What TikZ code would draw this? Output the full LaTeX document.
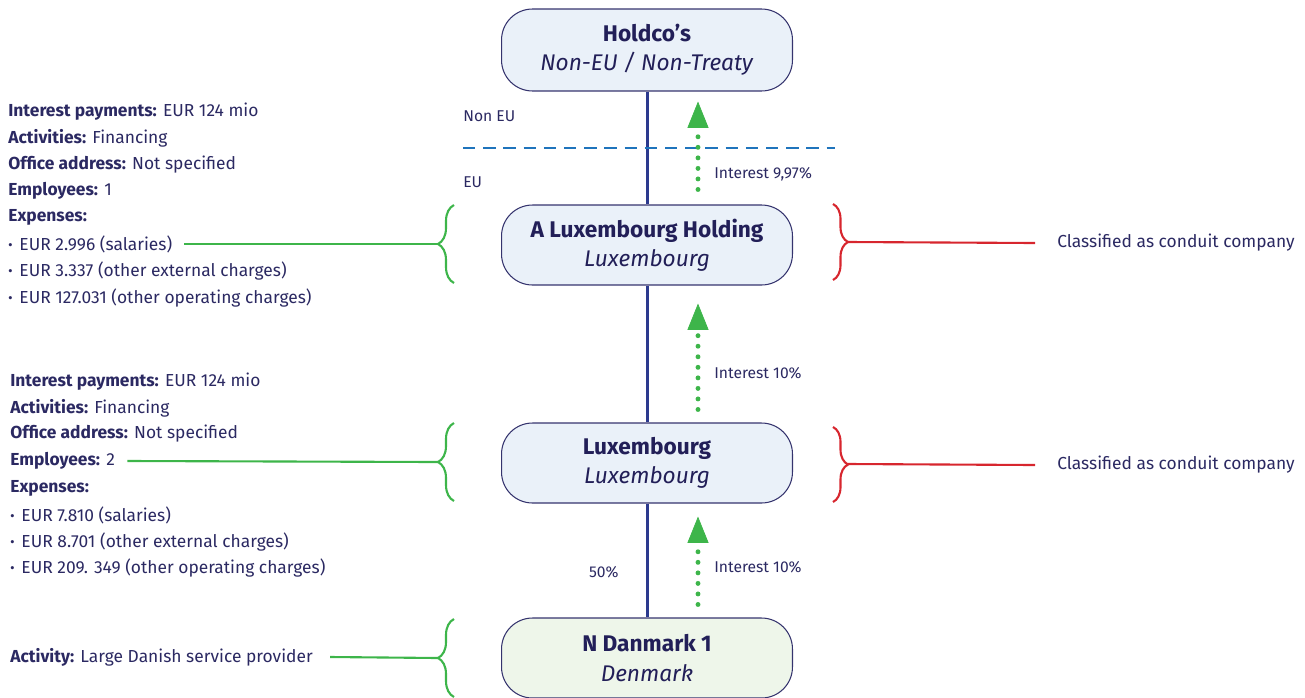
\documentclass[tikz,border=0pt]{standalone}
\usepackage{fontspec}
\setmainfont{Fira Sans}
\usepackage{tikz}
\usetikzlibrary{arrows.meta,decorations.pathreplacing}

\definecolor{navytext}{HTML}{2B2962}
\definecolor{titletext}{HTML}{221F58}
\definecolor{boxline}{HTML}{35346E}
\definecolor{boxfill}{HTML}{EAF1F9}
\definecolor{dkfill}{HTML}{EEF6EA}
\definecolor{stemline}{HTML}{2C3A8E}
\definecolor{flowgreen}{HTML}{3DB54A}
\definecolor{bracered}{HTML}{D7262E}
\definecolor{dashblue}{HTML}{1F74BC}

\begin{document}
\begin{tikzpicture}[x=0.02cm,y=-0.02cm,
    company/.style={draw=boxline, line width=0.6pt, fill=boxfill, rounded corners=0.62cm,
      minimum width=5.82cm, minimum height=1.6cm, align=center, text=titletext,
      font=\fontsize{12.9}{16.6}\selectfont},
    info/.style={anchor=west, inner sep=0pt, text=navytext, font=\fontsize{9.9}{11}\selectfont},
    small/.style={inner sep=0pt, text=navytext, font=\fontsize{8.9}{10}\selectfont},
    stem/.style={draw=stemline, line width=1.7pt},
    flow/.style={draw=flowgreen, line width=2.8pt, line cap=round, dash pattern=on 0pt off 6pt,
      -{Triangle[length=15pt,width=12pt,line width=0.4pt]}},
    gbrace/.style={draw=flowgreen, line width=1.2pt, decorate, decoration={brace, amplitude=0.32cm}},
    rbrace/.style={draw=bracered, line width=1.2pt, decorate, decoration={brace, amplitude=0.3cm}},
    gline/.style={draw=flowgreen, line width=1.2pt},
    rline/.style={draw=bracered, line width=1.2pt},
    border/.style={draw=dashblue, line width=1.2pt, dash pattern=on 7pt off 4.5pt}]

    \useasboundingbox (0,0) rectangle (1305,697);

    \node[company, minimum height=1.64cm] (holdco) at (647,50) {\textbf{Holdco’s}\\\textit{Non-EU / Non-Treaty}};
    \node[company] (alux) at (647,245) {\textbf{A Luxembourg Holding}\\\textit{Luxembourg}};
    \node[company] (lux) at (647,463) {\textbf{Luxembourg}\\\textit{Luxembourg}};
    \node[company, fill=dkfill] (dk) at (647,658) {\textbf{N Danmark 1}\\\textit{Denmark}};

    \draw[stem] (holdco) -- (alux) -- (lux) -- node[small, pos=0.6, left=0.54cm] (pct) {50\%} (dk);

    \draw[border] (463,148) -- (835,148);
    \node[small, anchor=west] (noneu) at (463,116) {Non EU};
    \node[small, anchor=west] (eu) at (463,182) {EU};

    \draw[flow] ([shift={(51,-15)}]alux.north) -- ([shift={(51,10)}]holdco.south);
    \draw[flow] ([shift={(51,-13)}]lux.north) -- ([shift={(51,18)}]alux.south);
    \draw[flow] ([shift={(51,-13)}]dk.north) -- ([shift={(51,13)}]lux.south);
    \node[small, anchor=west] (int1) at (714,174) {Interest 9,97\%};
    \node[small, anchor=west] (int2) at (714,373) {Interest 10\%};
    \node[small, anchor=west] (int3) at (714,567) {Interest 10\%};

    \node[info] (a1) at (8,112) {\textbf{Interest payments:} EUR 124 mio};
    \node[info] (a2) at (8,138) {\textbf{Activities:} Financing};
    \node[info] (a3) at (8,165) {\textbf{Office address:} Not specified};
    \node[info] (a4) at (8,191) {\textbf{Employees:} 1};
    \node[info] (a5) at (8,217) {\textbf{Expenses:}};
    \node[info] (a6) at (8,244) {\textbf{·}\hspace{0.4em}EUR 2.996 (salaries)};
    \node[info] (a7) at (8,271) {\textbf{·}\hspace{0.4em}EUR 3.337 (other external charges)};
    \node[info] (a8) at (8,298) {\textbf{·}\hspace{0.4em}EUR 127.031 (other operating charges)};

    \node[info] (b1) at (10,382) {\textbf{Interest payments:} EUR 124 mio};
    \node[info] (b2) at (10,408) {\textbf{Activities:} Financing};
    \node[info] (b3) at (10,434) {\textbf{Office address:} Not specified};
    \node[info] (b4) at (10,461) {\textbf{Employees:} 2};
    \node[info] (b5) at (10,488) {\textbf{Expenses:}};
    \node[info] (b6) at (10,515) {\textbf{·}\hspace{0.4em}EUR 7.810 (salaries)};
    \node[info] (b7) at (10,542) {\textbf{·}\hspace{0.4em}EUR 8.701 (other external charges)};
    \node[info] (b8) at (10,568) {\textbf{·}\hspace{0.4em}EUR 209. 349 (other operating charges)};

    \node[info] (c1) at (10,657) {\textbf{Activity:} Large Danish service provider};

    \draw[gbrace] (454,283) -- (454,205);
    \draw[gbrace] (454,501) -- (454,423);
    \draw[gbrace] (454,697) -- (454,619);
    \coordinate (ga) at (438,244);
    \coordinate (gb) at (438,462);
    \coordinate (gc) at (438,658);
    \draw[gline] ([xshift=0.24cm]a6.east) -- (ga);
    \draw[gline] ([xshift=0.24cm]b4.east) -- (gb);
    \draw[gline] ([xshift=0.34cm]c1.east) -- (gc);

    \node[info] (r1) at (1057,243) {Classified as conduit company};
    \node[info] (r2) at (1057,465) {Classified as conduit company};
    \draw[rbrace] (833,204) -- (833,280);
    \draw[rbrace] (833,427) -- (833,502);
    \coordinate (ra) at (848,242);
    \coordinate (rb) at (848,464);
    \draw[rline] (ra) -- ([xshift=-0.44cm]r1.west);
    \draw[rline] (rb) -- ([xshift=-0.44cm]r2.west);
  \end{tikzpicture}
\end{document}
